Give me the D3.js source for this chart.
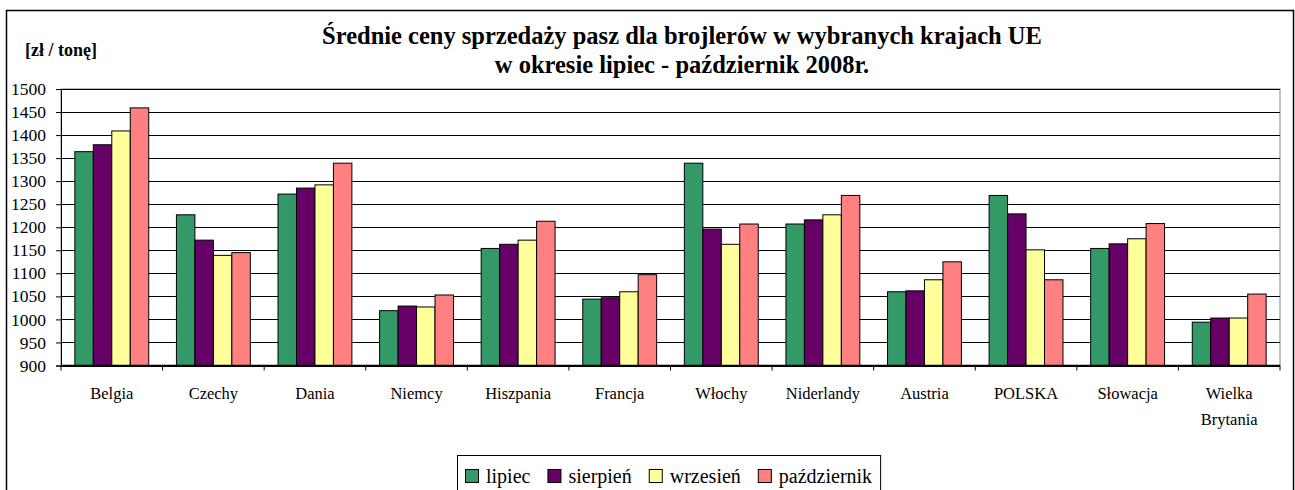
<!DOCTYPE html>
<html>
<head>
<meta charset="utf-8">
<script src="https://cdn.jsdelivr.net/npm/d3@7"></script>
<style>
  body { margin: 0; background: #fff; }
  svg text { font-family: "Liberation Serif", "Times New Roman", serif; fill: #000; }
</style>
</head>
<body>
<svg id="chart" width="1295" height="490"></svg>
<script>
  // data
  var countries = ['Belgia', 'Czechy', 'Dania', 'Niemcy', 'Hiszpania', 'Francja',
    'Włochy', 'Niderlandy', 'Austria', 'POLSKA', 'Słowacja', 'Wielka Brytania'];
  var months = ['lipiec', 'sierpień', 'wrzesień', 'październik'];
  var lipiec = [1364, 1227, 1272, 1019, 1154, 1044, 1339, 1207, 1060, 1269, 1154, 994];
  var sierpien = [1379, 1172, 1285, 1029, 1163, 1047, 1196, 1216, 1062, 1229, 1164, 1003];
  var wrzesien = [1409, 1139, 1292, 1027, 1172, 1060, 1163, 1227, 1086, 1151, 1175, 1003];
  var pazdziernik = [1459, 1145, 1339, 1053, 1213, 1097, 1207, 1269, 1125, 1086, 1208, 1055];
  var yTicks = d3.range(900, 1501, 50);
  var colors = ['#339966', '#660066', '#ffff99', '#ff8080'];

  (function () {
    var series = [lipiec, sierpien, wrzesien, pazdziernik];
    var rows = countries.map(function (c, i) {
      return { name: c, values: series.map(function (s, j) { return { m: months[j], v: s[i] }; }) };
    });

    var svg = d3.select('#chart');
    var plotLeft = 61, plotRight = 1280, plotTop = 89, plotBottom = 365.5;

    // outer chart border
    svg.append('rect')
      .attr('x', 6.5).attr('y', 10.5)
      .attr('width', 1287).attr('height', 500)
      .attr('fill', 'none').attr('stroke', '#000').attr('stroke-width', 1.5);

    svg.append('text')
      .attr('x', 682).attr('y', 44)
      .attr('text-anchor', 'middle')
      .style('font-size', '24.5px').style('font-weight', 'bold')
      .text('Średnie ceny sprzedaży pasz dla brojlerów w wybranych krajach UE');
    svg.append('text')
      .attr('x', 682).attr('y', 73)
      .attr('text-anchor', 'middle')
      .style('font-size', '24.5px').style('font-weight', 'bold')
      .text('w okresie lipiec - październik 2008r.');

    svg.append('text')
      .attr('x', 25).attr('y', 56)
      .style('font-size', '18px').style('font-weight', 'bold')
      .text('[zł / tonę]');

    var x0 = d3.scaleBand().domain(countries).range([plotLeft, plotRight]);
    var gap = x0.step() * 150 / 550;
    var x1 = d3.scaleBand().domain(months).range([gap / 2, x0.step() - gap / 2]);
    var y = d3.scaleLinear().domain([900, 1500]).range([plotBottom, plotTop]);
    var color = d3.scaleOrdinal().domain(months).range(colors);

    // plot area frame (right side gray)
    svg.append('rect')
      .attr('x', plotLeft).attr('y', plotTop)
      .attr('width', plotRight - plotLeft).attr('height', plotBottom - plotTop)
      .attr('fill', 'none').attr('stroke', '#808080');

    // gridlines
    svg.append('g')
      .selectAll('line')
      .data(yTicks)
      .enter()
      .append('line')
      .attr('x1', plotLeft).attr('x2', plotRight)
      .attr('y1', function (d) { return Math.round(y(d)) + 0.5; })
      .attr('y2', function (d) { return Math.round(y(d)) + 0.5; })
      .attr('stroke', '#000').attr('stroke-width', 1);

    // bars
    var groups = svg.append('g')
      .selectAll('g')
      .data(rows)
      .enter()
      .append('g')
      .attr('transform', function (d) { return 'translate(' + x0(d.name) + ',0)'; });

    groups.selectAll('rect')
      .data(function (d) { return d.values; })
      .enter()
      .append('rect')
      .attr('x', function (d) { return x1(d.m); })
      .attr('y', function (d) { return y(d.v); })
      .attr('width', x1.bandwidth())
      .attr('height', function (d) { return y(900) - y(d.v); })
      .attr('fill', function (d) { return color(d.m); })
      .attr('stroke', '#000').attr('stroke-width', 1);

    // y axis
    var yAxis = svg.append('g')
      .attr('transform', 'translate(' + plotLeft + ',0)')
      .call(d3.axisLeft(y).tickValues(yTicks).tickSize(5).tickPadding(10).tickFormat(d3.format('d')));
    yAxis.attr('font-family', null);
    yAxis.selectAll('text').style('font-size', '17.5px');
    yAxis.selectAll('line').attr('stroke', '#000');
    yAxis.select('.domain').attr('stroke', '#000');

    // category axis
    var xAxis = svg.append('g');
    xAxis.append('line')
      .attr('x1', plotLeft).attr('x2', plotRight)
      .attr('y1', plotBottom).attr('y2', plotBottom)
      .attr('stroke', '#000').attr('stroke-width', 1.5);
    xAxis.selectAll('.tick')
      .data(countries.concat(['end']))
      .enter()
      .append('line')
      .attr('x1', function (d, i) { return i < countries.length ? x0(d) : plotRight; })
      .attr('x2', function (d, i) { return i < countries.length ? x0(d) : plotRight; })
      .attr('y1', plotBottom).attr('y2', plotBottom + 5)
      .attr('stroke', '#000');

    var labels = xAxis.selectAll('.cat')
      .data(countries)
      .enter()
      .append('text')
      .attr('class', 'cat')
      .attr('text-anchor', 'middle')
      .style('font-size', '16.5px');
    labels.each(function (d) {
      var parts = d === 'Wielka Brytania' ? d.split(' ') : [d];
      var t = d3.select(this);
      parts.forEach(function (p, i) {
        t.append('tspan')
          .attr('x', x0(d) + x0.step() / 2)
          .attr('y', 399 + i * 26)
          .text(p);
      });
    });

    // legend
    var legend = svg.append('g');
    var lx = 457, ly = 455;
    var legendBox = legend.append('rect')
      .attr('x', lx + 0.5).attr('y', ly + 0.5)
      .attr('height', 45)
      .attr('fill', '#fff').attr('stroke', '#000');
    var cx = lx + 8;
    months.forEach(function (m) {
      legend.append('rect')
        .attr('x', cx + 0.5).attr('y', ly + 14.5)
        .attr('width', 13).attr('height', 13)
        .attr('fill', color(m)).attr('stroke', '#000');
      var t = legend.append('text')
        .attr('x', cx + 21).attr('y', ly + 28)
        .style('font-size', '20px')
        .text(m);
      cx += 21 + t.node().getComputedTextLength() + 17;
    });
    legendBox.attr('width', cx - lx - 9);
  })();
</script>
</body>
</html>
